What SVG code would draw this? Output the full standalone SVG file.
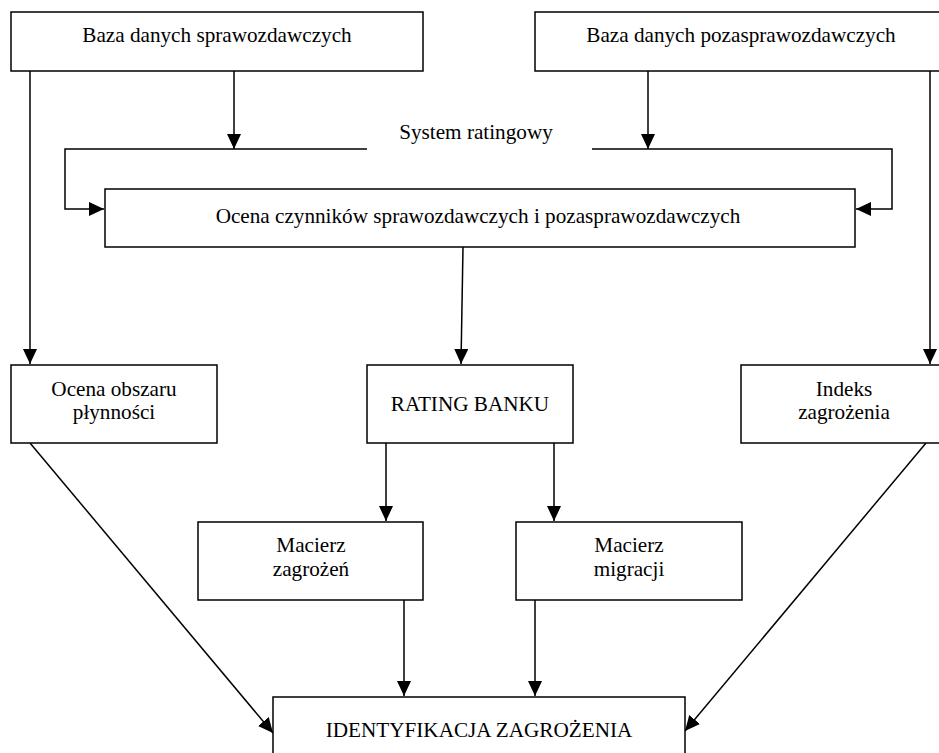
<svg xmlns="http://www.w3.org/2000/svg" width="939" height="753" viewBox="0 0 939 753">
<style>
.box{fill:#fff;stroke:#000;stroke-width:1.5}
.t{font-family:"Liberation Serif","Times New Roman",serif;font-size:21.2px;fill:#000;text-anchor:middle}
.c{fill:none;stroke:#000;stroke-width:1.5}
</style>
<defs>
<marker id="ah" markerUnits="userSpaceOnUse" markerWidth="15" markerHeight="14" refX="15" refY="7" orient="auto">
<path d="M0,0 L15,7 L0,14 z" fill="#000"/>
</marker>
</defs>
<rect width="939" height="753" fill="#fff"/>
<g id="connectors">
<path class="c" d="M30,71 V364" marker-end="url(#ah)"/>
<path class="c" d="M234,71 V149" marker-end="url(#ah)"/>
<path class="c" d="M648,71 V149" marker-end="url(#ah)"/>
<path class="c" d="M930,71 V364" marker-end="url(#ah)"/>
<path class="c" d="M367,149 H65 V209 H104" marker-end="url(#ah)"/>
<path class="c" d="M592,149 H892 V209 H856" marker-end="url(#ah)"/>
<path class="c" d="M463,247 L461,364" marker-end="url(#ah)"/>
<path class="c" d="M386,443 V521" marker-end="url(#ah)"/>
<path class="c" d="M554,443 V521" marker-end="url(#ah)"/>
<path class="c" d="M404,600 V696" marker-end="url(#ah)"/>
<path class="c" d="M535,600 V696" marker-end="url(#ah)"/>
<path class="c" d="M30,443 L273,733" marker-end="url(#ah)"/>
<path class="c" d="M926,443 L685,731" marker-end="url(#ah)"/>
</g>
<g id="baza-spraw">
<rect class="box" x="11" y="12" width="412" height="59"/>
<text class="t" x="217" y="42">Baza danych sprawozdawczych</text>
</g>
<g id="baza-pozaspraw">
<rect class="box" x="535" y="12" width="412" height="59"/>
<text class="t" x="741" y="42">Baza danych pozasprawozdawczych</text>
</g>
<g id="system-ratingowy">
<text class="t" x="476" y="139">System ratingowy</text>
</g>
<g id="ocena-czynnikow">
<rect class="box" x="105" y="189" width="750" height="58"/>
<text class="t" x="478" y="223">Ocena czynników sprawozdawczych i pozasprawozdawczych</text>
</g>
<g id="ocena-obszaru">
<rect class="box" x="11" y="365" width="206" height="78"/>
<text class="t" x="114" y="396">Ocena obszaru</text>
<text class="t" x="114" y="419">płynności</text>
</g>
<g id="rating-banku">
<rect class="box" x="367" y="365" width="206" height="78"/>
<text class="t" x="470" y="411">RATING BANKU</text>
</g>
<g id="indeks">
<rect class="box" x="741" y="365" width="206" height="78"/>
<text class="t" x="844" y="396">Indeks</text>
<text class="t" x="844" y="419">zagrożenia</text>
</g>
<g id="macierz-zagrozen">
<rect class="box" x="198" y="522" width="225" height="78"/>
<text class="t" x="311" y="552">Macierz</text>
<text class="t" x="311" y="576">zagrożeń</text>
</g>
<g id="macierz-migracji">
<rect class="box" x="516" y="522" width="226" height="78"/>
<text class="t" x="629" y="552">Macierz</text>
<text class="t" x="629" y="576">migracji</text>
</g>
<g id="identyfikacja">
<rect class="box" x="273" y="697" width="412" height="70"/>
<text class="t" x="479" y="737">IDENTYFIKACJA ZAGROŻENIA</text>
</g>
</svg>
